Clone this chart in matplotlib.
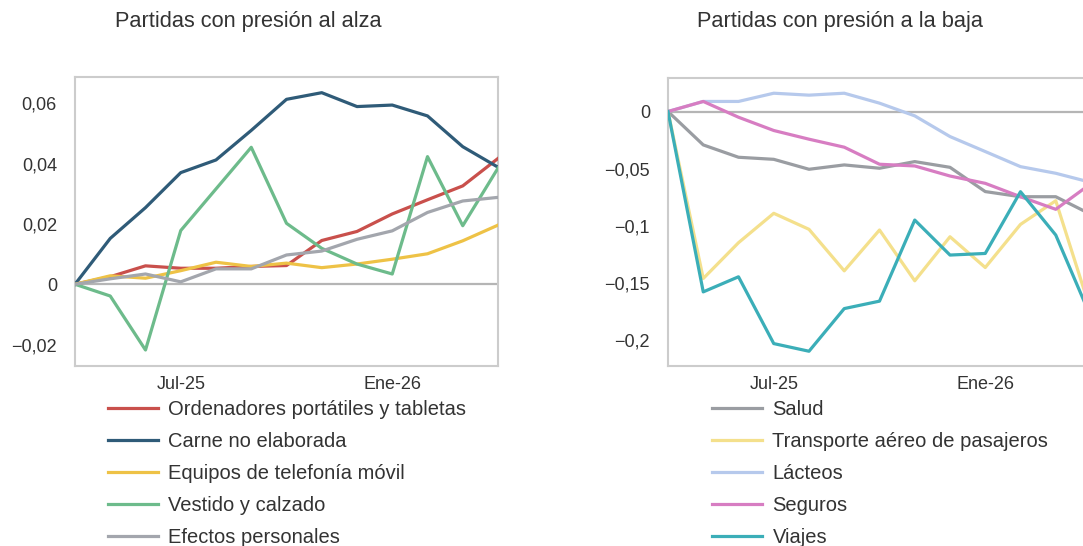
import matplotlib
matplotlib.use("Agg")
import matplotlib.pyplot as plt
from matplotlib.ticker import FixedLocator, FuncFormatter

# ── Datos ────────────────────────────────────────────────────────────────────
meses = ["Abr-25", "May-25", "Jun-25", "Jul-25", "Ago-25", "Sep-25", "Oct-25",
         "Nov-25", "Dic-25", "Ene-26", "Feb-26", "Mar-26", "Abr-26"]
ticks_x = ["Jul-25", "Ene-26"]

# Partidas con presión al alza
ordenadores = [0, 0.0025, 0.0061, 0.0053, 0.0053, 0.0059, 0.0062, 0.0145, 0.0175, 0.0233, 0.0280, 0.0326, 0.0417]
carne       = [0, 0.0152, 0.0254, 0.0370, 0.0412, 0.0510, 0.0613, 0.0635, 0.0589, 0.0594, 0.0558, 0.0456, 0.0388]
telefonia   = [0, 0.0028, 0.0020, 0.0045, 0.0073, 0.0059, 0.0070, 0.0055, 0.0067, 0.0083, 0.0101, 0.0144, 0.0196]
vestido     = [0, -0.0039, -0.0218, 0.0178, 0.0316, 0.0454, 0.0202, 0.0119, 0.0067, 0.0034, 0.0423, 0.0194, 0.0385]
efectos     = [0, 0.0018, 0.0034, 0.0008, 0.0051, 0.0051, 0.0097, 0.0110, 0.0149, 0.0177, 0.0238, 0.0276, 0.0288]

# Partidas con presión a la baja
salud      = [0, -0.0292, -0.0400, -0.0418, -0.0505, -0.0467, -0.0496, -0.0438, -0.0488, -0.0700, -0.0745, -0.0745, -0.0900]
transporte = [0, -0.1460, -0.1147, -0.0890, -0.1030, -0.1393, -0.1036, -0.1480, -0.1095, -0.1364, -0.0987, -0.0780, -0.1750]
lacteos    = [0, 0.0088, 0.0088, 0.0160, 0.0143, 0.0160, 0.0073, -0.0038, -0.0219, -0.0350, -0.0482, -0.0540, -0.0620]
seguros    = [0, 0.0088, -0.0050, -0.0166, -0.0242, -0.0312, -0.0461, -0.0476, -0.0564, -0.0628, -0.0745, -0.0855, -0.0630]
viajes     = [0, -0.1577, -0.1445, -0.2029, -0.2096, -0.1723, -0.1658, -0.0949, -0.1255, -0.1241, -0.0701, -0.1080, -0.1800]

alza = [
    ("Ordenadores portátiles y tabletas", ordenadores, "#C9504C"),
    ("Carne no elaborada", carne, "#2F5B78"),
    ("Equipos de telefonía móvil", telefonia, "#EEC246"),
    ("Vestido y calzado", vestido, "#6DBB8B"),
    ("Efectos personales", efectos, "#A3A6AD"),
]
baja = [
    ("Salud", salud, "#9A9DA2"),
    ("Transporte aéreo de pasajeros", transporte, "#F4E08C"),
    ("Lácteos", lacteos, "#B6C9EC"),
    ("Seguros", seguros, "#D77DC2"),
    ("Viajes", viajes, "#3BAEB8"),
]

# ── Estilo ───────────────────────────────────────────────────────────────────
plt.rcParams["font.family"] = ["Liberation Sans", "DejaVu Sans"]
TEXT = "#333333"
SPINE = "#CCCCCC"


def fmt(v, pos):
    if abs(v) < 1e-12:
        return "0"
    s = f"{abs(v):g}".replace(".", ",")
    return ("\u2212" + s) if v < 0 else s


def panel(fig, rect, series, yticks, ylim, legend_xy):
    ax = fig.add_axes(rect)
    x = list(range(len(meses)))
    for label, vals, color in series:
        ax.plot(x, vals, color=color, linewidth=2.3, label=label, zorder=3)
    ax.axhline(0, color="#B5B5B5", linewidth=1.6, zorder=2)
    ax.set_xlim(0, len(meses) - 1)
    ax.set_ylim(*ylim)
    ax.xaxis.set_major_locator(FixedLocator([meses.index(t) for t in ticks_x]))
    ax.set_xticklabels(ticks_x)
    ax.yaxis.set_major_locator(FixedLocator(yticks))
    ax.yaxis.set_major_formatter(FuncFormatter(fmt))
    ax.tick_params(axis="both", length=0, labelsize=13, colors=TEXT)
    ax.tick_params(axis="y", pad=13)
    ax.tick_params(axis="x", pad=7)
    for sp in ax.spines.values():
        sp.set_color(SPINE)
        sp.set_linewidth(1.5)
    ax.legend(loc="upper left", bbox_to_anchor=legend_xy, bbox_transform=fig.transFigure,
              frameon=False, fontsize=14.5, handlelength=2.5, handletextpad=0.5,
              labelspacing=0.645, borderpad=0, borderaxespad=0, labelcolor=TEXT)
    return ax


W, H = 1083, 546
fig = plt.figure(figsize=(W / 100, H / 100), dpi=100)
fig.patch.set_facecolor("white")

panel(fig, [75 / W, 1 - 366 / H, 423 / W, 289 / H], alza,
      [-0.02, 0, 0.02, 0.04, 0.06], (-0.0271, 0.0687), (108 / W, 1 - 400 / H))
panel(fig, [668 / W, 1 - 366 / H, 423 / W, 288 / H], baja,
      [0, -0.05, -0.1, -0.15, -0.2], (-0.2225, 0.0293), (712 / W, 1 - 400 / H))

fig.text(115 / W, 1 - 21 / H, "Partidas con presión al alza", fontsize=15.7,
         color=TEXT, ha="left", va="center")
fig.text(697 / W, 1 - 21 / H, "Partidas con presión a la baja", fontsize=15.7,
         color=TEXT, ha="left", va="center")

fig.savefig("out.png", dpi=100, facecolor="white")
